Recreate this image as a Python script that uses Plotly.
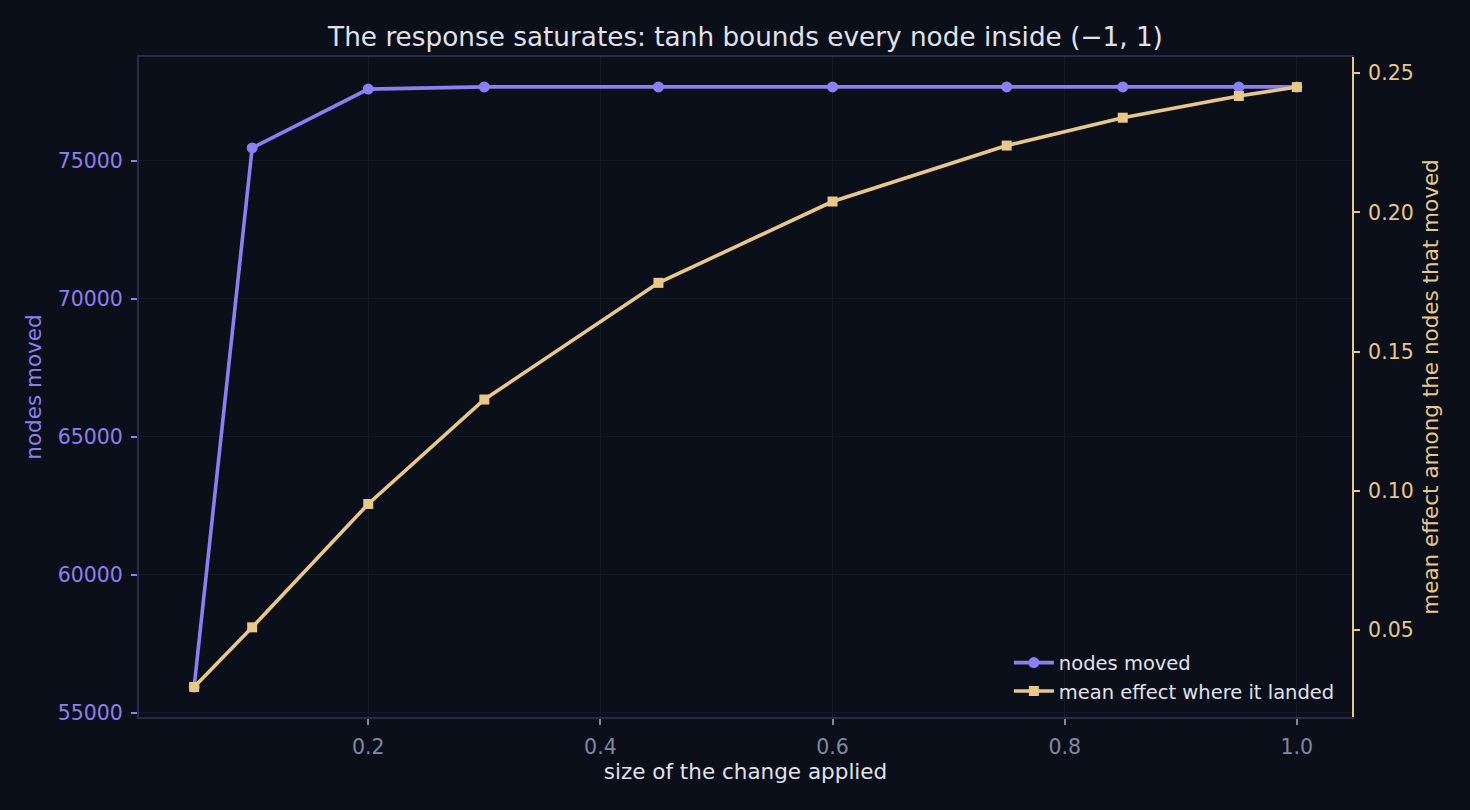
import plotly.graph_objects as go

# change sizes and measured responses
change_size = [0.05, 0.1, 0.2, 0.3, 0.45, 0.6, 0.75, 0.85, 0.95, 1.0]
nodes_moved = [55940, 75470, 77600, 77680, 77680, 77680, 77680, 77680, 77680, 77680]
mean_effect = [0.0296, 0.051, 0.0953, 0.1328, 0.1747, 0.2039, 0.224, 0.234, 0.2418, 0.245]

x_ticks = [0.2, 0.4, 0.6, 0.8, 1.0]
x_labels = ['0.2', '0.4', '0.6', '0.8', '1.0']
y_ticks = [55000, 60000, 65000, 70000, 75000]
y_labels = ['55000', '60000', '65000', '70000', '75000']
y2_ticks = [0.05, 0.10, 0.15, 0.20, 0.25]
y2_labels = ['0.05', '0.10', '0.15', '0.20', '0.25']

BG = "#0b0f1a"
PURPLE = "#8b80f0"
TAN = "#e8c88a"
SPINE = "#262c45"
GRID = "#141926"
TEXT = "#e0e3ee"
MUTED = "#8088a0"
FONT = "DejaVu Sans"

fig = go.Figure()

fig.add_trace(go.Scatter(
    x=change_size, y=nodes_moved,
    mode='lines+markers',
    name='nodes moved',
    line=dict(color=PURPLE, width=3.6),
    marker=dict(symbol='circle', size=11, color=PURPLE),
    yaxis='y'
))

fig.add_trace(go.Scatter(
    x=change_size, y=mean_effect,
    mode='lines+markers',
    name='mean effect where it landed',
    line=dict(color=TAN, width=3.6),
    marker=dict(symbol='square', size=10, color=TAN),
    yaxis='y2'
))

fig.update_layout(
    width=1470, height=810,
    paper_bgcolor=BG, plot_bgcolor=BG,
    font=dict(family=FONT, color=TEXT, size=20),
    margin=dict(l=139, r=118, t=57, b=93),
    title=dict(
        text='The response saturates: tanh bounds every node inside (\u22121, 1)',
        x=0.5, xref='paper', xanchor='center',
        y=1 - 37 / 810, yanchor='middle',
        font=dict(size=26.3, color=TEXT, family=FONT)
    ),
    xaxis=dict(
        title=dict(text='size of the change applied', font=dict(size=21.5, color=TEXT), standoff=6),
        range=[0.0025, 1.0475],
        tickvals=x_ticks, ticktext=x_labels,
        tickfont=dict(size=20.5, color=MUTED),
        ticks='outside', ticklen=6, tickcolor=MUTED, tickwidth=1.5,
        ticklabelstandoff=4,
        showline=True, linecolor=SPINE, linewidth=2, mirror=True,
        showgrid=True, gridcolor=GRID, gridwidth=1,
        zeroline=False
    ),
    yaxis=dict(
        title=dict(text='nodes moved', font=dict(size=21.5, color=PURPLE), standoff=10),
        range=[54853, 78763],
        tickvals=y_ticks, ticktext=y_labels,
        tickfont=dict(size=20.5, color=PURPLE),
        ticks='outside', ticklen=6, tickcolor=PURPLE, tickwidth=1.5,
        ticklabelstandoff=4,
        showline=True, linecolor=SPINE, linewidth=2,
        showgrid=True, gridcolor=GRID, gridwidth=1,
        zeroline=False
    ),
    yaxis2=dict(
        title=dict(text='mean effect among the nodes that moved', font=dict(size=21.5, color=TAN), standoff=10),
        overlaying='y', side='right',
        range=[0.0188, 0.2558],
        tickvals=y2_ticks, ticktext=y2_labels,
        tickfont=dict(size=20.5, color=TAN),
        ticks='outside', ticklen=6, tickcolor=TAN, tickwidth=1.5,
        ticklabelstandoff=4,
        showline=True, linecolor=TAN, linewidth=2,
        showgrid=False, zeroline=False
    ),
    legend=dict(
        x=0.99, y=0.01, xanchor='right', yanchor='bottom',
        bgcolor='rgba(0,0,0,0)',
        font=dict(size=19.5, color=TEXT),
        itemwidth=40, tracegroupgap=0
    ),
    showlegend=True
)

fig.write_html(
    "out.html",
    config={'displayModeBar': False},
    post_script="document.body.style.margin='0';document.body.style.background='#0b0f1a';"
)
